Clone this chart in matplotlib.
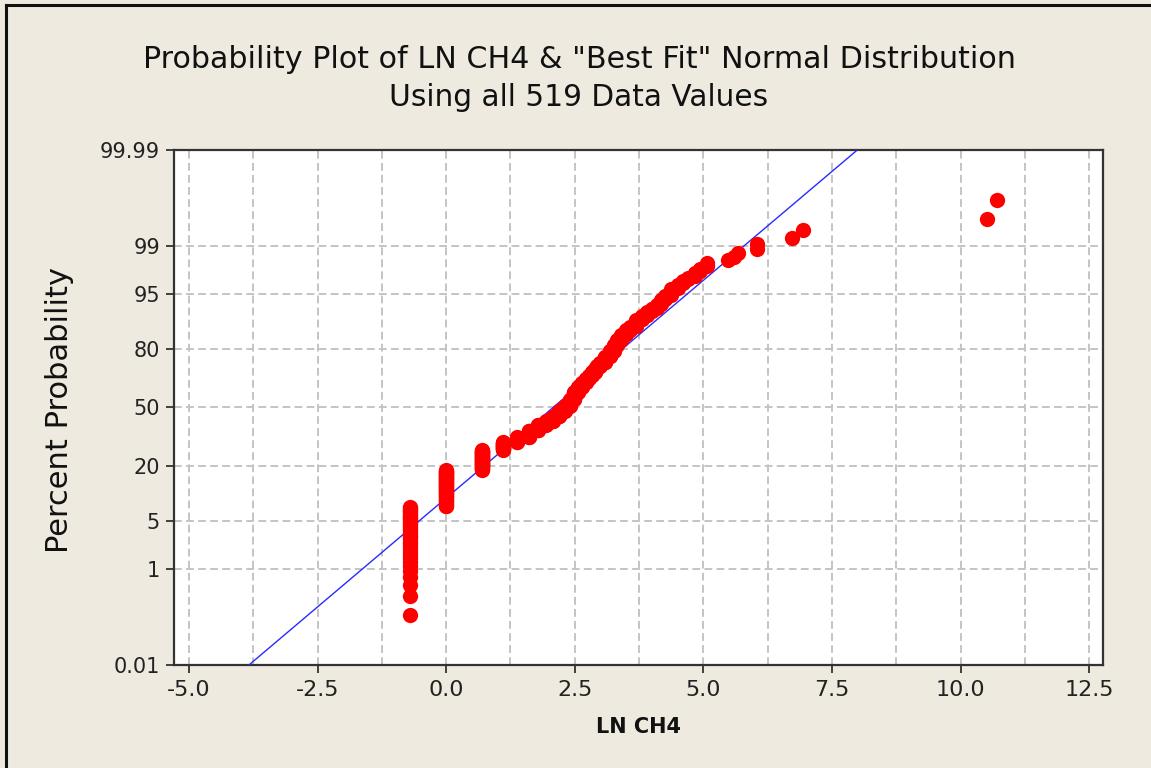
import math
from statistics import NormalDist

import numpy as np
import matplotlib
matplotlib.use("Agg")
import matplotlib.pyplot as plt
from matplotlib.lines import Line2D
from matplotlib.ticker import FixedLocator, MultipleLocator

# ---------------- data ----------------
# distinct LN CH4 values and how many of the 519 observations take each value
ln_values = [-0.693, 0.000, 0.693, 1.099, 1.386, 1.609, 1.792,
             1.946, 2.079, 2.197, 2.303, 2.40, 2.49, 2.57, 2.64, 2.71,
             2.77, 2.83, 2.89, 2.94, 3.00, 3.09, 3.18, 3.26, 3.33, 3.40,
             3.50, 3.58, 3.69, 3.81, 3.91, 4.01, 4.09, 4.17, 4.25, 4.38,
             4.50, 4.61, 4.70, 4.83, 4.94, 5.07, 5.48, 5.60, 5.67, 6.04,
             6.72, 6.94, 10.51, 10.70]
ln_counts = [39, 56, 45, 20, 13, 19, 16,
             11, 14, 17, 14, 19, 22, 15, 13, 11,
             8, 9, 9, 7, 8, 14, 13, 12, 10, 9,
             8, 5, 10, 5, 5, 4, 4, 4, 4, 5,
             3, 2, 2, 2, 2, 2, 1, 1, 1, 2,
             1, 1, 1, 1]

# "best fit" normal distribution (mean, standard deviation of LN CH4)
fit_mean = 2.08
fit_sd = 1.59

y_ticks = [0.01, 1, 5, 20, 50, 80, 95, 99, 99.99]
y_tick_labels = ["0.01", "1", "5", "20", "50", "80", "95", "99", "99.99"]
x_ticks = [-5.0, -2.5, 0.0, 2.5, 5.0, 7.5, 10.0, 12.5]
x_tick_labels = ["-5.0", "-2.5", "0.0", "2.5", "5.0", "7.5", "10.0", "12.5"]

title_1 = 'Probability Plot of LN CH4 & "Best Fit" Normal Distribution'
title_2 = "Using all 519 Data Values"
x_label = "LN CH4"
y_label = "Percent Probability"

# ---------------- probability (normal) scale ----------------
_nd = NormalDist()
_ppf = np.vectorize(_nd.inv_cdf, otypes=[float])
_cdf = np.vectorize(_nd.cdf, otypes=[float])


def pct_to_z(p):
    p = np.clip(np.asarray(p, dtype=float) / 100.0, 1e-12, 1 - 1e-12)
    return _ppf(p)


def z_to_pct(z):
    return 100.0 * _cdf(np.asarray(z, dtype=float))


# expand values to individual observations and median-rank plotting positions
obs_x = np.repeat(np.asarray(ln_values, dtype=float), ln_counts)
n_obs = len(obs_x)
ranks = np.arange(1, n_obs + 1)
obs_pct = 100.0 * (ranks - 0.3) / (n_obs + 0.4)

# fit line endpoints (0.01 % .. 99.99 %)
line_pct = np.array([0.01, 99.99])
line_x = fit_mean + fit_sd * pct_to_z(line_pct)

# ---------------- figure ----------------
BG = "#EEEAE0"
fig = plt.figure(figsize=(11.51, 7.68), dpi=100)
fig.patch.set_facecolor(BG)

ax = fig.add_axes([174 / 1151, 1 - 665 / 768, (1102.5 - 174) / 1151, (665 - 150) / 768])
ax.set_facecolor("white")
ax.set_yscale("function", functions=(pct_to_z, z_to_pct))
ax.set_xlim(-5.29, 12.76)
ax.set_ylim(0.01, 99.99)

ax.xaxis.set_major_locator(FixedLocator(x_ticks))
ax.xaxis.set_minor_locator(MultipleLocator(1.25))
ax.set_xticks(x_ticks)
ax.set_xticklabels(x_tick_labels)
ax.set_yticks(y_ticks)
ax.set_yticklabels(y_tick_labels)
ax.yaxis.set_minor_locator(FixedLocator([]))

grid_kw = dict(color="#C4C4C4", linewidth=1.4, linestyle=(0, (4, 2.2)))
ax.grid(True, which="both", axis="x", **grid_kw)
ax.grid(True, which="major", axis="y", **grid_kw)
ax.set_axisbelow(True)

ax.tick_params(axis="both", which="major", direction="out", length=6, width=1.3,
               color="#333333")
ax.tick_params(axis="x", which="minor", length=0)
ax.tick_params(axis="y", labelsize=15, pad=4, labelcolor="#222222")
ax.tick_params(axis="x", labelsize=16, pad=5, labelcolor="#222222")
for lab in ax.get_yticklabels() + ax.get_xticklabels():
    lab.set_family("DejaVu Sans")

for sp in ax.spines.values():
    sp.set_color("#333333")
    sp.set_linewidth(1.6)

ax.plot(line_x, line_pct, color="#2A2AFF", linewidth=1.0, zorder=3, clip_on=True)
ax.plot(obs_x, obs_pct, linestyle="none", marker="o", markersize=11,
        markerfacecolor="#FF0000", markeredgecolor="none", zorder=4)

# texts
fig.text(579 / 1151, 1 - 60 / 768, title_1, ha="center", va="center",
         fontsize=21.7, family="DejaVu Sans", color="#111111")
fig.text(579 / 1151, 1 - 98 / 768, title_2, ha="center", va="center",
         fontsize=21.3, family="DejaVu Sans", color="#111111")
fig.text(60 / 1151, 1 - 410 / 768, y_label, ha="center", va="center",
         rotation=90, fontsize=22, family="DejaVu Sans", color="#111111")
fig.text(638 / 1151, 1 - 727 / 768, x_label, ha="center", va="center",
         fontsize=15, fontweight="bold", family="DejaVu Sans", color="#111111")

# outer frame lines (top and left) of the window
fig.add_artist(Line2D([6 / 1151, 1], [1 - 5 / 768, 1 - 5 / 768],
                      transform=fig.transFigure, color="#111111", linewidth=2.2))
fig.add_artist(Line2D([6 / 1151, 6 / 1151], [0, 1 - 5 / 768],
                      transform=fig.transFigure, color="#111111", linewidth=2.2))

fig.savefig("out.png", dpi=100, facecolor=BG)
